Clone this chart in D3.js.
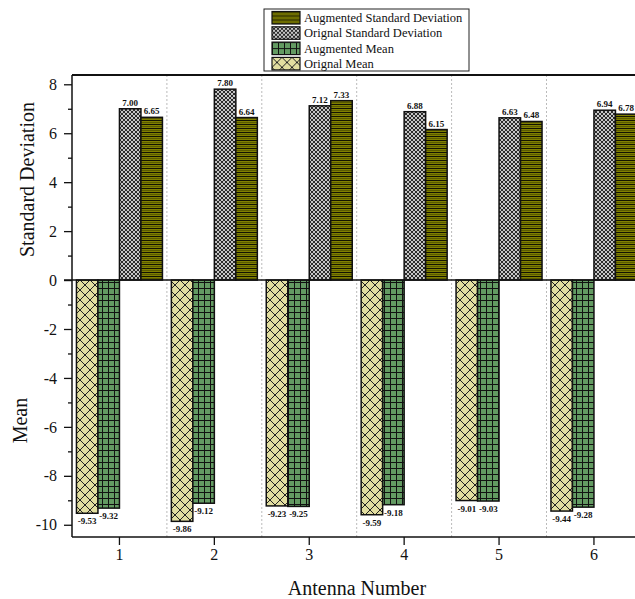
<!DOCTYPE html>
<html><head><meta charset="utf-8">
<script src="https://cdn.jsdelivr.net/npm/d3@7"></script>
<style>
body{margin:0;background:#fff}
svg{display:block}
text{font-family:"Liberation Serif","Times New Roman",serif;fill:#111}
</style>
</head><body><svg id="chart" width="635" height="599"></svg>
<script>
// Antenna statistics: original vs augmented mean and standard deviation
const antennas = ["1", "2", "3", "4", "5", "6"];
const origMean = [-9.53, -9.86, -9.23, -9.59, -9.01, -9.44];
const augMean  = [-9.32, -9.12, -9.25, -9.18, -9.03, -9.28];
const origStd  = [7.00, 7.80, 7.12, 6.88, 6.63, 6.94];
const augStd   = [6.65, 6.64, 7.33, 6.15, 6.48, 6.78];

const stdTicks = [0, 2, 4, 6, 8];
const stdMinor = [1, 3, 5, 7];
const meanTicks = [-2, -4, -6, -8, -10];
const meanMinor = [-1, -3, -5, -7, -9];

const seriesOrder = ["origMean", "augMean", "origStd", "augStd"];
const legendOrder = ["augStd", "origStd", "augMean", "origMean"];
const seriesNames = {
  augStd: "Augmented Standard Deviation",
  origStd: "Orignal Standard Deviation",
  augMean: "Augmented Mean",
  origMean: "Orignal Mean"
};
const seriesValues = { origMean, augMean, origStd, augStd };

const svg = d3.select("#chart");
const plotL = 72, plotR = 641.4, plotT = 75, plotB = 537;

// plain hyphen for negative numbers
const locale = d3.formatLocale({ decimal: ".", thousands: ",", grouping: [3], currency: ["", ""], minus: "-" });
const fmtVal = locale.format(".2f");
const fmtTick = locale.format("d");

const x = d3.scaleBand().domain(antennas).range([plotL, plotR])
  .paddingInner(0.094).paddingOuter(0.047);
const x1 = d3.scaleBand().domain(seriesOrder).range([0, x.bandwidth()]);
const y = d3.scaleLinear().domain([-10.5, 8.4]).range([plotB, plotT - 0.5]);

// fill patterns
const defs = svg.append("defs");
function pattern(id, w, h, bg, draw) {
  const p = defs.append("pattern").attr("id", id)
    .attr("patternUnits", "userSpaceOnUse").attr("width", w).attr("height", h);
  p.append("rect").attr("width", w).attr("height", h).attr("fill", bg);
  draw(p);
}
pattern("p-augStd", 8, 4, "#808000", p => {
  p.append("rect").attr("y", 0).attr("width", 8).attr("height", 1).attr("fill", "#141400");
  p.append("rect").attr("y", 2).attr("width", 8).attr("height", 1).attr("fill", "#5a5a00");
});
pattern("p-origStd", 4, 4, "#c6c6c6", p => {
  p.append("path").attr("d", "M0,0L4,4M4,0L0,4").attr("stroke", "#1a1a1a").attr("stroke-width", 0.9);
});
pattern("p-augMean", 6, 6, "#639a62", p => {
  p.append("path").attr("d", "M0,0.5H6M0.5,0V6").attr("stroke", "#111").attr("stroke-width", 1);
});
pattern("p-origMean", 10, 10, "#e2dea0", p => {
  p.append("path").attr("d", "M0,0L10,10M10,0L0,10").attr("stroke", "#222").attr("stroke-width", 1);
});

// dotted separators between antennas
const seps = antennas.slice(1).map(a => x(a) - x.step() * x.paddingInner() / 2);
svg.append("g").selectAll("line").data(seps).join("line")
  .attr("x1", d => d).attr("x2", d => d).attr("y1", plotT).attr("y2", plotB)
  .attr("stroke", "#bbb").attr("stroke-width", 1).attr("stroke-dasharray", "2,2");

// bars
const rows = [];
antennas.forEach((a, i) => seriesOrder.forEach(s => rows.push({ a, s, v: seriesValues[s][i] })));
svg.append("g").selectAll("rect").data(rows).join("rect")
  .attr("x", d => x(d.a) + x1(d.s))
  .attr("width", x1.bandwidth())
  .attr("y", d => y(Math.max(0, d.v)))
  .attr("height", d => Math.abs(y(d.v) - y(0)))
  .attr("fill", d => `url(#p-${d.s})`)
  .attr("stroke", "#111").attr("stroke-width", 1.5);

// value labels
svg.append("g").selectAll("text").data(rows).join("text")
  .attr("x", d => x(d.a) + x1(d.s) + x1.bandwidth() / 2)
  .attr("y", d => d.v >= 0 ? y(d.v) - 3 : y(d.v) + 11)
  .attr("text-anchor", "middle")
  .attr("font-size", 9).attr("font-weight", "bold")
  .text(d => fmtVal(d.v));

// frame lines
svg.append("line").attr("x1", plotL).attr("x2", 635).attr("y1", plotT).attr("y2", plotT)
  .attr("stroke", "#111").attr("stroke-width", 2);
svg.append("line").attr("x1", plotL - 8).attr("x2", 635).attr("y1", y(0)).attr("y2", y(0))
  .attr("stroke", "#111").attr("stroke-width", 1.5);

// axes
function styleAxis(g) {
  g.selectAll("text").attr("font-size", 16).attr("fill", "#111");
  g.selectAll("line,path").attr("stroke", "#111").attr("stroke-width", 1.3);
}
const yTop = d3.axisLeft(y).tickValues(stdTicks).tickSize(8).tickPadding(7).tickFormat(fmtTick);
svg.append("g").attr("transform", `translate(${plotL},0)`).call(yTop).call(styleAxis)
  .call(g => g.select(".domain").remove());
const yBot = d3.axisLeft(y).tickValues(meanTicks).tickSize(8).tickPadding(7).tickFormat(fmtTick);
svg.append("g").attr("transform", `translate(${plotL},0)`).call(yBot).call(styleAxis)
  .call(g => g.select(".domain").remove());
const yMinor = d3.axisLeft(y).tickValues(stdMinor.concat(meanMinor)).tickSize(4).tickFormat("");
svg.append("g").attr("transform", `translate(${plotL},0)`).call(yMinor).call(styleAxis)
  .call(g => g.select(".domain").remove());
svg.append("line").attr("x1", plotL).attr("x2", plotL).attr("y1", plotT).attr("y2", plotB)
  .attr("stroke", "#111").attr("stroke-width", 1.5);

const xAxis = d3.axisBottom(x).tickSize(8).tickPadding(4);
svg.append("g").attr("transform", `translate(0,${plotB})`).call(xAxis).call(styleAxis)
  .call(g => g.select(".domain").remove());
svg.append("line").attr("x1", plotL).attr("x2", 635).attr("y1", plotB).attr("y2", plotB)
  .attr("stroke", "#111").attr("stroke-width", 1.5);

// axis titles
svg.append("text").attr("transform", `translate(34,${(plotT + y(0)) / 2 + 2}) rotate(-90)`)
  .attr("text-anchor", "middle").attr("font-size", 20).text("Standard Deviation");
svg.append("text").attr("transform", `translate(27,${(y(0) + plotB) / 2 + 12}) rotate(-90)`)
  .attr("text-anchor", "middle").attr("font-size", 20).text("Mean");
svg.append("text").attr("x", 357).attr("y", 595).attr("text-anchor", "middle")
  .attr("font-size", 20).text("Antenna Number");

// legend
const lg = svg.append("g");
lg.append("rect").attr("x", 264).attr("y", 9).attr("width", 205).attr("height", 62)
  .attr("fill", "#fff").attr("stroke", "#222").attr("stroke-width", 1);
const item = lg.selectAll("g.item").data(legendOrder).join("g").attr("class", "item")
  .attr("transform", (d, i) => `translate(272,${11.5 + i * 15.3})`);
item.append("rect").attr("width", 28).attr("height", 12.5)
  .attr("fill", d => `url(#p-${d})`).attr("stroke", "#111").attr("stroke-width", 1.2);
item.append("text").attr("x", 32).attr("y", 10.5).attr("font-size", 12.5)
  .text(d => seriesNames[d]);
</script>
</body></html>
